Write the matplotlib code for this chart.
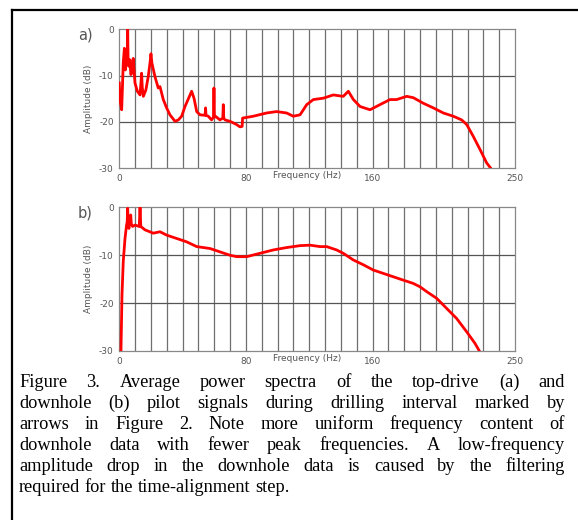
"""
    Spettri di potenza medi dei segnali pilota: top-drive (a) e downhole (b)
"""

# Librerie
import numpy as np
from matplotlib import pyplot as plt
from matplotlib.lines import Line2D

# Dati: pannello a) top-drive
freq_a = [0.0, 0.4, 1.5, 2.5, 3.2, 3.8, 4.6, 5.0, 5.3, 5.6, 5.9, 6.7, 7.3, 7.8, 8.8, 9.9,
          11.4, 13.1, 13.8, 14.1, 14.5, 15.2, 16.8, 18.3, 19.5, 20.0, 20.6, 22.5, 24.6,
          25.7, 27.8, 29.9, 32.0, 35.2, 37.3, 39.4, 41.5, 44.7, 45.7, 47.2, 48.9, 51.0,
          54.2, 54.5, 54.8, 56.2, 58.3, 59.5, 59.8, 60.1, 60.7, 63.6, 65.4, 65.7, 66.0,
          66.8, 69.9, 74.1, 76.2, 77.6, 77.9, 84.7, 93.1, 99.4, 105.7, 109.9, 114.2,
          118.4, 122.6, 128.9, 135.2, 141.5, 144.7, 147.9, 152.1, 158.4, 164.7, 171.0,
          175.2, 181.6, 185.8, 192.1, 198.4, 204.7, 211.0, 216.3, 219.5, 223.7, 227.9,
          232.1, 234.6, 236.0]
db_a = [-11.6, -15.2, -17.4, -7.3, -4.1, -8.8, -5.2, -7.0, 0.0, -7.5, -8.0, -6.6, -9.8, -9.5,
        -6.3, -11.6, -13.4, -14.2, -11.0, -9.5, -12.5, -14.5, -13.1, -10.2, -7.0, -5.3,
        -7.3, -10.2, -12.7, -12.4, -15.2, -17.0, -18.5, -19.9, -19.6, -18.8, -16.7,
        -14.2, -13.4, -14.9, -17.8, -18.5, -18.6, -17.0, -18.6, -18.8, -19.6, -19.0,
        -12.7, -19.0, -18.8, -19.6, -19.2, -16.3, -19.2, -19.6, -19.9, -20.6, -21.1,
        -21.0, -19.2, -18.8, -18.1, -17.8, -18.1, -18.8, -18.5, -16.3, -15.2, -14.9,
        -14.2, -14.5, -13.4, -15.2, -16.7, -17.4, -16.3, -15.2, -15.2, -14.5, -14.8,
        -16.0, -17.0, -18.1, -18.8, -19.6, -20.6, -23.2, -26.0, -28.9, -30.0, -31.0]

# Pannello b) downhole
freq_b = [1.05, 1.7, 2.5, 3.6, 4.6, 5.0, 5.3, 5.6, 6.1, 6.8, 7.2, 7.6, 8.4, 9.9, 12.6,
          13.1, 13.6, 16.2, 21.5, 25.7, 29.9, 36.2, 42.5, 48.9, 57.3, 63.6, 69.9, 74.1,
          80.5, 88.9, 97.3, 105.7, 114.2, 120.5, 126.8, 131.0, 137.3, 141.5, 147.9,
          154.2, 160.5, 166.8, 173.1, 179.4, 185.8, 190.0, 194.2, 200.5, 206.8, 213.1,
          219.5, 224.7, 227.5, 229.0]
db_b = [-30.0, -18.3, -11.3, -6.5, -3.7, -3.0, -0.2, -3.5, -4.4, -2.5, -1.6, -3.5, -4.0,
        -3.7, -4.0, 0.0, -4.0, -4.7, -5.4, -5.1, -5.8, -6.5, -7.2, -8.2, -8.6, -9.3,
        -10.0, -10.3, -10.3, -9.6, -8.9, -8.4, -8.0, -7.9, -8.2, -8.2, -8.9, -9.6,
        -11.0, -12.0, -13.1, -13.8, -14.5, -15.2, -15.9, -16.6, -17.6, -19.0, -21.1,
        -23.2, -26.0, -28.4, -30.0, -31.0]

x_ticks = [0, 80, 160, 250]
y_ticks = [0, -10, -20, -30]

caption = [
    "Figure 3. Average power spectra of the top-drive (a) and",
    "downhole (b) pilot signals during drilling interval marked by",
    "arrows in Figure 2. Note more uniform frequency content of",
    "downhole data with fewer peak frequencies. A low-frequency",
    "amplitude drop in the downhole data is caused by the filtering",
    "required for the time-alignment step.",
]

plt.rcParams["axes.unicode_minus"] = False


def pannello(fig, rect, freq, db, lettera):
    ax = fig.add_axes(rect)
    ax.set_xlim(0, 250)
    ax.set_ylim(-30, 0)
    for xv in np.arange(10, 250, 10):
        ax.axvline(xv, color="#6f6f6f", lw=0.9, zorder=1)
    for yv in [-10, -20]:
        ax.axhline(yv, color="#555555", lw=0.9, zorder=1)
    ax.plot(freq, db, color="#ff0000", lw=2.0, zorder=3)
    ax.set_xticks(x_ticks)
    ax.set_yticks(y_ticks)
    ax.tick_params(length=0, labelsize=6.5, labelcolor="#555555", pad=4)
    for s in ax.spines.values():
        s.set_color("#888888")
        s.set_linewidth(0.9)
    ax.set_ylabel("Amplitude (dB)", fontsize=6.5, color="#555555", labelpad=4)
    ax.text(0.474, -0.055, "Frequency (Hz)", transform=ax.transAxes, ha="center",
            va="center", fontsize=6.5, color="#555555")
    pos = ax.get_position()
    fig.text(85 / 578, pos.y1 - 6 / 520, lettera, ha="center", va="center",
             fontsize=10.5, color="#555555")
    return ax


def main():
    fig = plt.figure(figsize=(5.78, 5.20), dpi=100)

    pannello(fig, [0.2064, 0.6769, 0.6846, 0.2668], freq_a, db_a, "a)")
    pannello(fig, [0.2064, 0.3250, 0.6846, 0.2763], freq_b, db_b, "b)")

    # Cornice
    fig.add_artist(Line2D([12 / 578, 1.0], [1 - 10 / 520, 1 - 10 / 520],
                          color="black", lw=1.6, transform=fig.transFigure))
    fig.add_artist(Line2D([12 / 578, 12 / 578], [1 - 10 / 520, 0.0],
                          color="black", lw=1.6, transform=fig.transFigure))

    # Didascalia giustificata
    renderer = fig.canvas.get_renderer()
    x0, x1 = 19, 565
    fs = 13.2
    for i, riga in enumerate(caption):
        y = 1 - (386.7 + 21 * i) / 520
        parole = riga.split(" ")
        testi = [fig.text(0, y, p, fontsize=fs, family="Liberation Serif",
                          va="baseline", ha="left") for p in parole]
        larghezze = [t.get_window_extent(renderer).width for t in testi]
        if i < len(caption) - 1:
            gap = (x1 - x0 - sum(larghezze)) / (len(parole) - 1)
        else:
            spazio = fig.text(0, 0, " ", fontsize=fs, family="Liberation Serif")
            gap = spazio.get_window_extent(renderer).width
            spazio.remove()
        x = x0
        for t, w in zip(testi, larghezze):
            t.set_x(x / 578)
            x += w + gap

    fig.savefig("out.png", dpi=100)

    return


if __name__ == "__main__":
    main()
